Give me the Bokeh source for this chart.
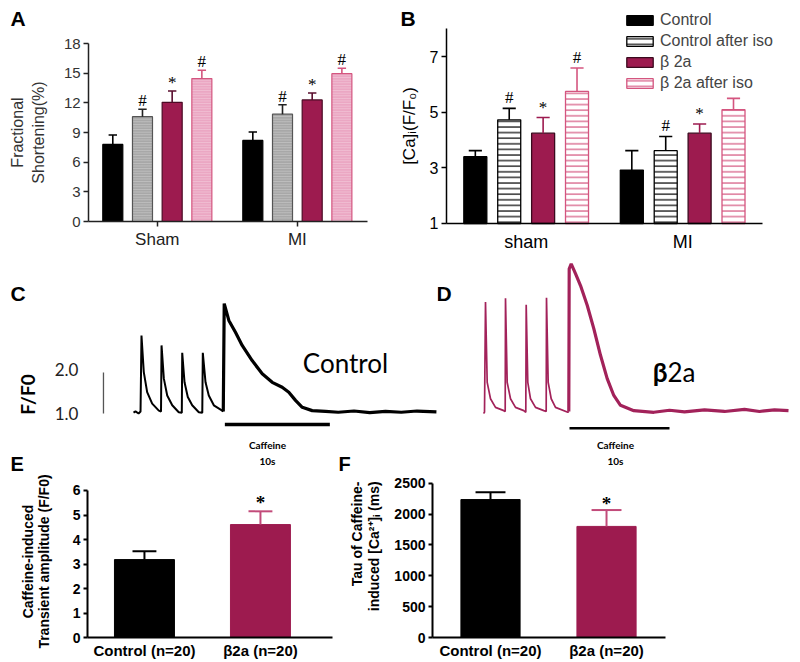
from math import pi
from bokeh.plotting import figure
from bokeh.layouts import column, row
from bokeh.models import (Range1d, FixedTicker, Label, LabelSet, ColumnDataSource,
                          Legend, LegendItem)
from bokeh.embed import file_html
from bokeh.resources import INLINE

# ---------------- data ----------------
series_names = ["Control", "Control after iso", "\u03b2 2a", "\u03b2 2a after iso"]

A_groups = ["Sham", "MI"]
A_control = [7.8, 8.2]
A_control_err = [0.95, 0.85]
A_control_iso = [10.6, 10.85]
A_control_iso_err = [0.75, 0.95]
A_b2a = [12.05, 12.3]
A_b2a_err = [1.15, 0.7]
A_b2a_iso = [14.45, 14.95]
A_b2a_iso_err = [0.85, 0.55]
A_marks = [["", ""], ["#", "#"], ["*", "*"], ["#", "#"]]
A_yticks = [0, 3, 6, 9, 12, 15, 18]

B_groups = ["sham", "MI"]
B_control = [3.40, 2.92]
B_control_err = [0.22, 0.70]
B_control_iso = [4.73, 3.62]
B_control_iso_err = [0.41, 0.51]
B_b2a = [4.25, 4.25]
B_b2a_err = [0.56, 0.33]
B_b2a_iso = [5.75, 5.09]
B_b2a_iso_err = [0.84, 0.41]
B_marks = [["", ""], ["#", "#"], ["*", "*"], ["#", ""]]
B_yticks = [1, 3, 5, 7]

# Control Ca transient trace (time s, F/F0)
C_time = [0.0, 0.19, 0.48, 0.67, 0.76, 0.98, 1.30, 1.78, 2.41, 2.62, 2.67, 2.89, 3.21, 3.69, 4.31,
          4.60, 4.64, 4.86, 5.17, 5.59, 6.22, 6.55, 6.60, 6.86, 7.17, 7.65, 8.45, 8.55, 8.64, 9.08,
          9.71, 10.35, 11.30, 12.26, 13.21, 14.16, 14.79, 15.43, 16.07, 17.02, 18.29, 19.5, 21.0,
          22.5, 24.0, 25.5, 27.0, 28.85]
C_ratio = [1.02, 1.05, 1.00, 1.05, 2.90, 2.01, 1.52, 1.24, 1.07, 1.05, 2.66, 1.85, 1.44, 1.20, 1.03,
           1.02, 2.48, 1.76, 1.40, 1.20, 1.03, 1.02, 2.48, 1.76, 1.44, 1.20, 1.07, 1.05, 3.68, 3.27,
           2.98, 2.66, 2.29, 1.97, 1.76, 1.64, 1.52, 1.32, 1.15, 1.07, 1.05, 1.03, 1.06, 1.02, 1.05,
           1.03, 1.06, 1.04]
C_caffeine_index = 27
C_caffeine_start = 8.7

# beta2a Ca transient trace (time s, F/F0)
D_time = [-0.1, 0.0, 0.1, 0.27, 0.6, 1.1, 1.93, 2.07, 2.1, 2.27, 2.6, 3.1, 3.93, 4.13, 4.17, 4.33,
          4.6, 5.1, 5.93, 6.17, 6.2, 6.37, 6.67, 7.1, 8.33, 8.43, 8.47, 8.67, 9.1, 9.6, 10.27, 10.93,
          11.6, 12.27, 12.93, 13.6, 14.93, 16.93, 18.5, 20.0, 22.0, 24.0, 26.0, 27.5, 29.0, 30.4]
D_ratio = [0.95, 0.98, 3.67, 1.71, 1.31, 1.10, 1.02, 1.00, 3.76, 1.71, 1.31, 1.10, 1.02, 0.98, 3.60,
           1.71, 1.31, 1.10, 1.02, 1.00, 3.77, 1.71, 1.31, 1.10, 0.98, 1.00, 4.48, 4.60, 4.36, 4.07,
           3.59, 3.02, 2.37, 1.80, 1.39, 1.15, 1.02, 0.98, 1.03, 0.99, 1.04, 1.00, 1.05, 1.00, 1.04,
           1.02]
D_caffeine_index = 25
D_caffeine_start = 8.5
caffeine_duration = 10
scale_bar = [1.0, 2.0]

E_labels = ["Control (n=20)", "\u03b22a (n=20)"]
E_amp = [3.18, 4.61]
E_amp_err = [0.34, 0.54]
E_marks = ["", "*"]
E_yticks = [0, 1, 2, 3, 4, 5, 6]

F_tau = [2235, 1800]
F_tau_err = [120, 265]
F_marks = ["", "*"]
F_yticks = [0, 500, 1000, 1500, 2000, 2500]

# ---------------- styles ----------------
SANS = "Liberation Sans"
CAL = "Lato"
BLACK = "#000000"
MAROON = "#9d1b4f"
GRAYFILL = "#a8a8a8"
PINKFILL = "#eba7c3"
PINKLINE = "#d4557f"
ERRPINK = "#c24b7a"
TRACE_D = "#a2225a"


def make_fig(w, h, xr, yr, axes=True):
    kw = dict(width=w, height=h, x_range=Range1d(*xr), y_range=Range1d(*yr),
              output_backend="svg", toolbar_location=None,
              min_border_left=0, min_border_right=0, min_border_top=0, min_border_bottom=0)
    if not axes:
        kw.update(x_axis_location=None, y_axis_location=None)
    p = figure(**kw)
    p.title.visible = False
    p.grid.visible = False
    p.outline_line_color = None
    p.background_fill_color = "white"
    p.border_fill_color = "white"
    return p


def text_at(p, fl, fb, rx, ry, txt, size, font=SANS, bold=False, color=BLACK,
            align="left", baseline="top", angle=0.0):
    # (rx, ry): position on the page; (fl, fb): frame's left and bottom on the page
    p.add_layout(Label(x=rx - fl, y=fb - ry, x_units="screen", y_units="screen", text=txt,
                       text_font=font, text_font_size=f"{size}px",
                       text_font_style="bold" if bold else "normal",
                       text_color=color, text_align=align, text_baseline=baseline, angle=angle))


def style_axis(ax, font, bold, tick_size, label_size, color=BLACK, label_color=BLACK,
               lw=1.5, tick_out=5, standoff=4, label_standoff=6):
    ax.axis_line_width = lw
    ax.axis_line_color = color
    ax.major_tick_line_color = color
    ax.major_tick_line_width = lw
    ax.major_tick_out = tick_out
    ax.major_tick_in = 0
    ax.minor_tick_line_color = None
    ax.major_label_text_font = font
    ax.major_label_text_font_size = f"{tick_size}px"
    ax.major_label_text_font_style = "bold" if bold else "normal"
    ax.major_label_text_color = label_color
    ax.major_label_standoff = standoff
    ax.axis_label_text_font = font
    ax.axis_label_text_font_size = f"{label_size}px"
    ax.axis_label_text_font_style = "bold" if bold else "normal"
    ax.axis_label_text_color = label_color
    ax.axis_label_standoff = label_standoff


def bar_series(p, pos, offset, width, vals, errs, marks, bottom, fill, line, err_color,
               cap_half, mark_font, mark_size, mark_bold, mark_offset, hatch=None,
               hatch_color="black", hatch_scale=4.0, hatch_weight=1.0, hatch_alpha=1.0,
               line_width=1.0, err_width=1.5):
    xs = [c + offset for c in pos]
    ups = [v + e for v, e in zip(vals, errs)]
    src = ColumnDataSource(dict(x=xs, top=vals, up=ups,
                                cl=[x - cap_half for x in xs], cr=[x + cap_half for x in xs],
                                mark=marks))
    r = p.vbar(x="x", top="top", bottom=bottom, width=width, source=src, fill_color=fill,
               line_color=line, line_width=line_width, hatch_pattern=hatch,
               hatch_color=hatch_color, hatch_scale=hatch_scale, hatch_weight=hatch_weight,
               hatch_alpha=hatch_alpha)
    p.segment(x0="x", y0="top", x1="x", y1="up", source=src, line_color=err_color,
              line_width=err_width)
    p.segment(x0="cl", y0="up", x1="cr", y1="up", source=src, line_color=err_color,
              line_width=err_width)
    p.add_layout(LabelSet(x="x", y="up", text="mark", source=src, text_align="center",
                          text_baseline="alphabetic", y_offset=mark_offset,
                          text_font=mark_font, text_font_size=f"{mark_size}px",
                          text_font_style="bold" if mark_bold else "normal",
                          text_color=BLACK))
    return r


def place_axes(p, x_loc, y_loc, x_bounds, y_bounds):
    p.yaxis.fixed_location = x_loc
    p.xaxis.fixed_location = y_loc
    p.xaxis.bounds = x_bounds
    p.yaxis.bounds = y_bounds


# ---------------- Panel A (page x 0-395, y 0-258) ----------------
A_pos = list(range(len(A_groups)))
pA = make_fig(395, 258, (-1.12, 1.701), (-3.741, 22.35))
A_step, A_w, A_cap = 0.212, 0.143, 0.03
A_series = [
    (A_control, A_control_err, dict(fill=BLACK, line=BLACK, err_color=BLACK)),
    (A_control_iso, A_control_iso_err, dict(fill=GRAYFILL, line="#555555", err_color="#222222",
                                            hatch="horizontal_line", hatch_color="white",
                                            hatch_scale=2.6, hatch_weight=0.6, hatch_alpha=0.45)),
    (A_b2a, A_b2a_err, dict(fill=MAROON, line="#4a0a24", err_color="#5a0e2e")),
    (A_b2a_iso, A_b2a_iso_err, dict(fill=PINKFILL, line=PINKLINE, err_color=PINKLINE,
                                    hatch="horizontal_line", hatch_color="white",
                                    hatch_scale=2.6, hatch_weight=0.6, hatch_alpha=0.45)),
]
for j, (vals, errs, st) in enumerate(A_series):
    bar_series(pA, A_pos, (j - 1.5) * A_step, A_w, vals, errs, A_marks[j], 0,
               cap_half=A_cap, mark_font=SANS, mark_size=17, mark_bold=False, mark_offset=3,
               line_width=1.2, err_width=1.6, **st)
place_axes(pA, -0.491, 0, (-0.491, 1.501), (0, 18))
pA.yaxis.ticker = FixedTicker(ticks=A_yticks)
pA.xaxis.ticker = FixedTicker(ticks=A_pos)
pA.xaxis.major_label_overrides = {i: g for i, g in zip(A_pos, A_groups)}
pA.yaxis.axis_label = "Fractional\nShortening(%)"
style_axis(pA.yaxis[0], SANS, False, 15, 16, color="#222222", label_color="#333333",
           lw=1.5, tick_out=5, standoff=3, label_standoff=14)
style_axis(pA.xaxis[0], SANS, False, 17, 16, color="#222222", label_color="#222222",
           lw=1.5, tick_out=5, standoff=3)
text_at(pA, 0, 258, 10, 6, "A", 21, bold=True)

# ---------------- Panel B (page x 395-800, y 0-258) ----------------
B_pos = list(range(len(B_groups)))
pB = make_fig(405, 258, (-0.835, 1.753), (-0.259, 9.02))
B_step, B_w, B_cap = 0.2166, 0.147, 0.042
B_series = [
    (B_control, B_control_err, dict(fill=BLACK, line=BLACK, err_color=BLACK)),
    (B_control_iso, B_control_iso_err, dict(fill="white", line=BLACK, err_color=BLACK,
                                            hatch="horizontal_line", hatch_color=BLACK,
                                            hatch_scale=5.6, hatch_weight=1.2)),
    (B_b2a, B_b2a_err, dict(fill=MAROON, line="#3a0a1e", err_color=MAROON)),
    (B_b2a_iso, B_b2a_iso_err, dict(fill="white", line=PINKLINE, err_color=PINKLINE,
                                    hatch="horizontal_line", hatch_color=PINKLINE,
                                    hatch_scale=5.6, hatch_weight=1.2)),
]
B_renderers = []
for j, (vals, errs, st) in enumerate(B_series):
    r = bar_series(pB, B_pos, (j - 1.5) * B_step, B_w, vals, errs, B_marks[j], 1,
                   cap_half=B_cap, mark_font=SANS, mark_size=17, mark_bold=False, mark_offset=5,
                   line_width=1.3, err_width=1.6, **st)
    B_renderers.append(r)
place_axes(pB, -0.509, 1, (-0.509, 1.510), (1, 8))
pB.yaxis.ticker = FixedTicker(ticks=B_yticks)
pB.xaxis.ticker = FixedTicker(ticks=B_pos)
pB.xaxis.major_label_overrides = {i: g for i, g in zip(B_pos, B_groups)}
pB.yaxis.axis_label = "[Ca]\u1d62(F/F\u2080)"
style_axis(pB.yaxis[0], SANS, False, 16, 17, lw=1.5, tick_out=5, standoff=3, label_standoff=8)
style_axis(pB.xaxis[0], SANS, False, 18, 16, lw=1.5, tick_out=0, standoff=9)
legend = Legend(items=[LegendItem(label=n, renderers=[r]) for n, r in zip(series_names, B_renderers)],
                location=(228, 166), glyph_width=33, glyph_height=12, label_height=18,
                label_text_font=SANS, label_text_font_size="16px", label_standoff=4,
                spacing=3, padding=0, margin=0, border_line_color=None,
                background_fill_alpha=0)
pB.add_layout(legend)
text_at(pB, 395, 258, 400, 6, "B", 21, bold=True)

# ---------------- Panel C (page x 0-437, y 258-474) ----------------
pC = make_fig(437, 216, (-12.667, 28.952), (-0.488, 4.78), axes=False)
pC.line(C_time[:C_caffeine_index + 1], C_ratio[:C_caffeine_index + 1], line_color=BLACK, line_width=2.0)
pC.line(C_time[C_caffeine_index:], C_ratio[C_caffeine_index:], line_color=BLACK, line_width=3.2)
pC.segment(x0=[C_caffeine_start], y0=[0.73], x1=[C_caffeine_start + caffeine_duration], y1=[0.73],
           line_color=BLACK, line_width=3.5)
pC.segment(x0=[-2.86], y0=[scale_bar[0]], x1=[-2.86], y1=[scale_bar[1]],
           line_color="#555555", line_width=1.3)
text_at(pC, 0, 474, 10, 281, "C", 21, bold=True)
text_at(pC, 0, 474, 27, 394, "F/F0", 19, font=CAL, bold=True, align="center",
        baseline="middle", angle=pi / 2)
text_at(pC, 0, 474, 66, 369, "2.0", 17, font=CAL, color="#222222", align="center", baseline="middle")
text_at(pC, 0, 474, 66, 413, "1.0", 17, font=CAL, color="#222222", align="center", baseline="middle")
text_at(pC, 0, 474, 345, 362, "Control", 26, font=CAL, align="center", baseline="middle")
text_at(pC, 0, 474, 267, 444, "Caffeine", 10, font=CAL, bold=True, align="center", baseline="middle")
text_at(pC, 0, 474, 267, 460, "10s", 10, font=CAL, bold=True, align="center", baseline="middle")
# panel letters of the lower row sit in this band
text_at(pC, 0, 474, 10, 474, "E", 20, bold=True, baseline="bottom")
text_at(pC, 0, 474, 338, 474, "F", 20, bold=True, baseline="bottom")

# ---------------- Panel D (page x 437-800, y 258-474) ----------------
pD = make_fig(363, 216, (-4.7, 31.6), (-0.537, 4.73), axes=False)
pD.line(D_time[:D_caffeine_index + 1], D_ratio[:D_caffeine_index + 1], line_color=TRACE_D, line_width=1.7)
pD.line(D_time[D_caffeine_index:], D_ratio[D_caffeine_index:], line_color=TRACE_D, line_width=3.2)
pD.segment(x0=[D_caffeine_start], y0=[0.59], x1=[D_caffeine_start + caffeine_duration], y1=[0.59],
           line_color=BLACK, line_width=2.5)
text_at(pD, 437, 474, 436, 281, "D", 21, bold=True)
text_at(pD, 437, 474, 667, 371, "\u03b2", 26, font=CAL, bold=True, align="right", baseline="middle")
text_at(pD, 437, 474, 667, 371, "2a", 26, font=CAL, align="left", baseline="middle")
text_at(pD, 437, 474, 615, 444, "Caffeine", 10, font=CAL, bold=True, align="center", baseline="middle")
text_at(pD, 437, 474, 615, 460, "10s", 10, font=CAL, bold=True, align="center", baseline="middle")

# ---------------- Panel E (page x 0-335, y 474-662) ----------------
E_pos = list(range(len(E_labels)))
pE = make_fig(335, 188, (-1.241, 1.647), (-1.02, 6.653))
for j in range(len(E_pos)):
    col = BLACK if j == 0 else MAROON
    bar_series(pE, [E_pos[j]], 0, 0.517, [E_amp[j]], [E_amp_err[j]], [E_marks[j]], 0,
               fill=col, line=col, err_color=BLACK if j == 0 else ERRPINK, cap_half=0.103,
               mark_font=SANS, mark_size=19, mark_bold=True, mark_offset=2, err_width=2)
place_axes(pE, -0.491, 0, (-0.491, 1.621), (0, 6))
pE.yaxis.ticker = FixedTicker(ticks=E_yticks)
pE.xaxis.ticker = FixedTicker(ticks=E_pos)
pE.xaxis.major_label_overrides = {i: g for i, g in zip(E_pos, E_labels)}
style_axis(pE.yaxis[0], SANS, True, 14, 14, lw=2, tick_out=4, standoff=3)
style_axis(pE.xaxis[0], SANS, True, 15, 14, lw=2, tick_out=0, standoff=4)
text_at(pE, 0, 662, 27, 561, "Caffeine-induced", 14, bold=True, align="center",
        baseline="middle", angle=pi / 2)
text_at(pE, 0, 662, 43.5, 561, "Transient amplitude (F/F0)", 14, bold=True, align="center",
        baseline="middle", angle=pi / 2)

# ---------------- Panel F (page x 335-800, y 474-662) ----------------
F_pos = list(range(len(E_labels)))
pF = make_fig(465, 188, (-1.336, 2.672), (-405, 2641))
for j in range(len(F_pos)):
    col = BLACK if j == 0 else MAROON
    bar_series(pF, [F_pos[j]], 0, 0.51, [F_tau[j]], [F_tau_err[j]], [F_marks[j]], 0,
               fill=col, line=col, err_color=BLACK if j == 0 else ERRPINK, cap_half=0.129,
               mark_font=SANS, mark_size=19, mark_bold=True, mark_offset=0, err_width=2)
place_axes(pF, -0.5, 0, (-0.5, 1.509), (0, 2500))
pF.yaxis.ticker = FixedTicker(ticks=F_yticks)
pF.xaxis.ticker = FixedTicker(ticks=F_pos)
pF.xaxis.major_label_overrides = {i: g for i, g in zip(F_pos, E_labels)}
style_axis(pF.yaxis[0], SANS, True, 14, 14, lw=2, tick_out=4, standoff=3)
style_axis(pF.xaxis[0], SANS, True, 15, 14, lw=2, tick_out=0, standoff=4)
text_at(pF, 335, 662, 356.5, 481, "Tau of Caffeine-", 14, bold=True, align="right",
        baseline="middle", angle=pi / 2)
text_at(pF, 335, 662, 373, 477, "induced  [Ca\u00b2\u207a]\u1d62 (ms)", 14, bold=True, align="right",
        baseline="middle", angle=pi / 2)

layout = column(row(pA, pB), row(pC, pD), row(pE, pF))
open("out.html", "w").write(file_html(layout, INLINE))
